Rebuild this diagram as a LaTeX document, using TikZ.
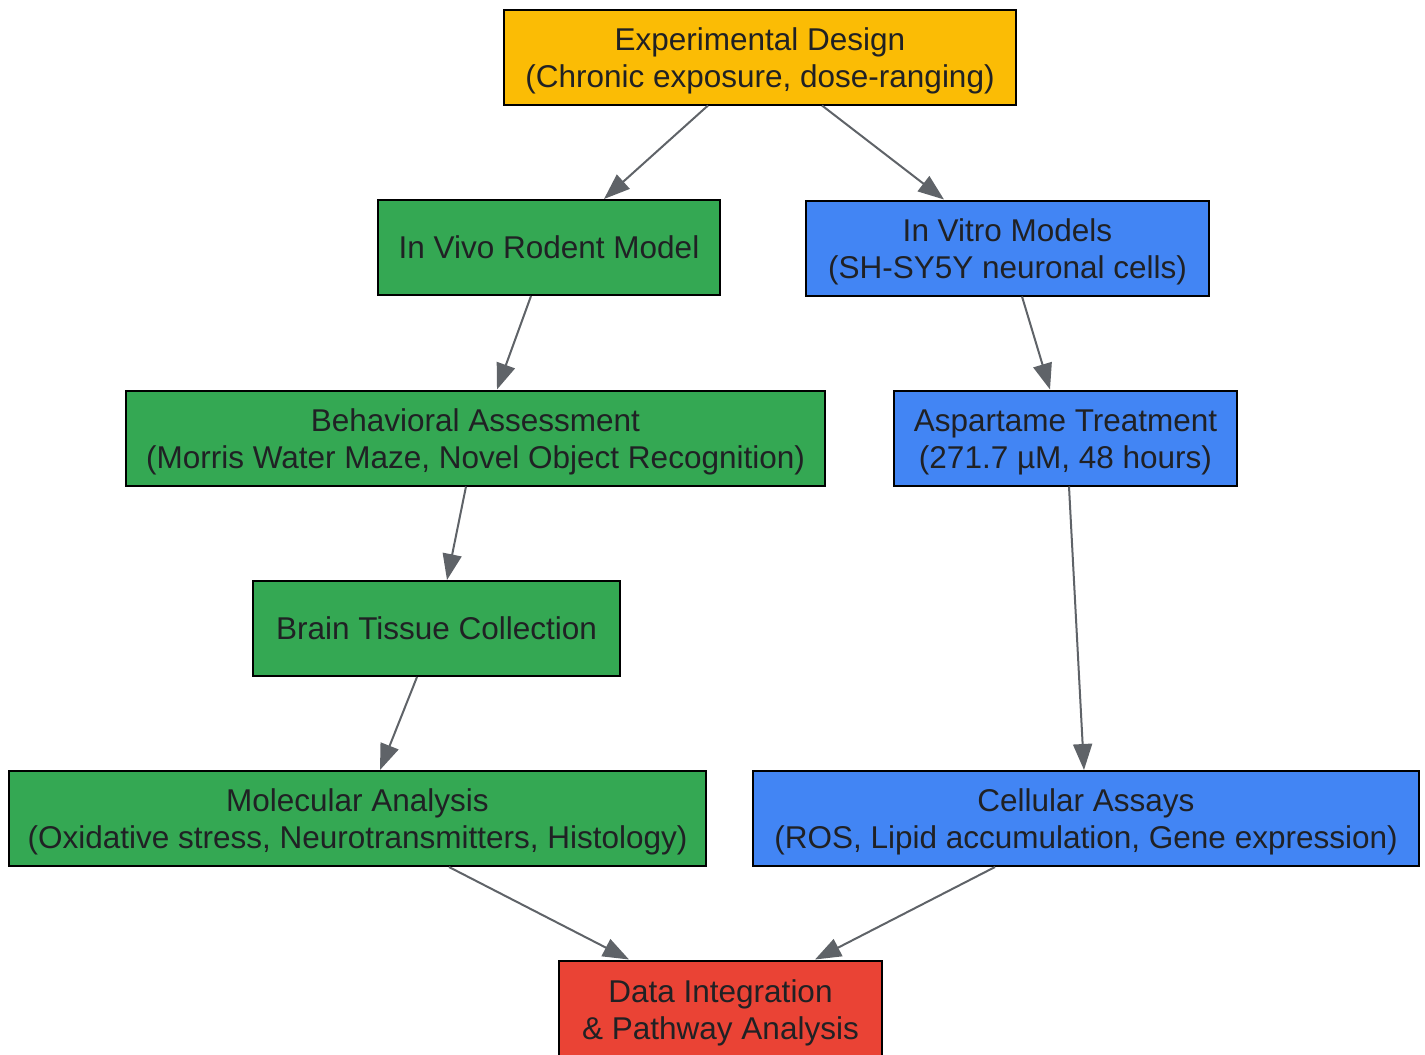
\documentclass[tikz,border=0pt]{standalone}
\usepackage{fontspec}
\setmainfont{Liberation Sans}
\usetikzlibrary{arrows.meta}
\definecolor{cYel}{HTML}{FBBC05}
\definecolor{cGrn}{HTML}{34A853}
\definecolor{cBlu}{HTML}{4285F4}
\definecolor{cRed}{HTML}{EA4335}
\definecolor{cTxt}{HTML}{202124}
\definecolor{cArr}{HTML}{5F6368}
\newcommand{\firststrut}{\rule{0pt}{30pt}}
\begin{document}
\begin{tikzpicture}[x=1pt,y=-1pt,
  box/.style={draw=black,line width=2pt,inner sep=0pt,align=center,
    minimum height=95pt,text=cTxt,
    font=\fontsize{31.5}{37}\selectfont},
  arr/.style={draw=cArr,line width=2pt,
    -{Triangle[length=26pt,width=19pt]}}]
\useasboundingbox (0,0) rectangle (1425,1055);
\clip (0,0) rectangle (1425,1055);
\node[box,fill=cYel,minimum width=512pt] (exp) at (760,57) {\firststrut Experimental Design\\(Chronic exposure, dose-ranging)};
\node[box,fill=cGrn,minimum width=342pt] (vivo) at (549,247.5) {In Vivo Rodent Model};
\node[box,fill=cBlu,minimum width=403pt] (vitro) at (1007.5,248) {\firststrut In Vitro Models\\(SH-SY5Y neuronal cells)};
\node[box,fill=cGrn,minimum width=699pt] (beh) at (475.5,438) {\firststrut Behavioral Assessment\\(Morris Water Maze, Novel Object Recognition)};
\node[box,fill=cBlu,minimum width=343pt] (asp) at (1065.5,438) {\firststrut Aspartame Treatment\\(271.7 µM, 48 hours)};
\node[box,fill=cGrn,minimum width=367pt] (brain) at (436.5,628.5) {Brain Tissue Collection};
\node[box,fill=cGrn,minimum width=697pt] (mol) at (357.5,818.5) {\firststrut Molecular Analysis\\(Oxidative stress, Neurotransmitters, Histology)};
\node[box,fill=cBlu,minimum width=666pt] (cell) at (1086,818.5) {\firststrut Cellular Assays\\(ROS, Lipid accumulation, Gene expression)};
\node[box,fill=cRed,minimum width=323pt,minimum height=97pt] (data) at (720.5,1009) {\firststrut Data Integration\\\& Pathway Analysis};
\draw[arr] ([xshift=-52pt]exp.south) -- ([xshift=55pt]vivo.north);
\draw[arr] ([xshift=62pt]exp.south) -- ([xshift=-63.5pt]vitro.north);
\draw[arr] ([xshift=-18pt]vivo.south) -- ([xshift=21.5pt]beh.north);
\draw[arr] ([xshift=14.5pt]vitro.south) -- ([xshift=-15.5pt]asp.north);
\draw[arr] ([xshift=-9.5pt]beh.south) -- ([xshift=10.5pt]brain.north);
\draw[arr] ([xshift=3.5pt]asp.south) -- ([xshift=-2pt]cell.north);
\draw[arr] ([xshift=-19.5pt]brain.south) -- ([xshift=22.5pt]mol.north);
\draw[arr] ([xshift=91.5pt]mol.south) -- ([xshift=-91.5pt]data.north);
\draw[arr] ([xshift=-91pt]cell.south) -- ([xshift=94.5pt]data.north);
\end{tikzpicture}
\end{document}
